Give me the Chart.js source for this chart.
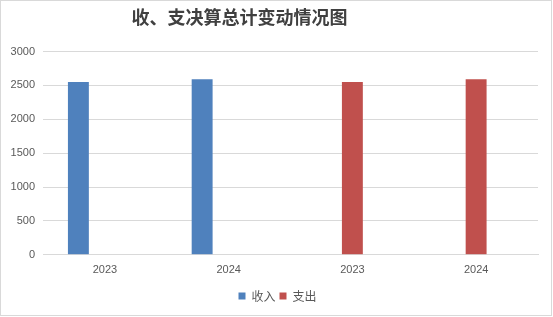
<!DOCTYPE html>
<html>
<head>
<meta charset="utf-8">
<script src="https://cdn.jsdelivr.net/npm/chart.js@4"></script>
<style>
  html, body { margin: 0; padding: 0; background: #ffffff; }
  #wrap { position: relative; width: 553px; height: 317px; }
  #frame { position: absolute; left: 0; top: 0; width: 552px; height: 316px; box-sizing: border-box; border: 1px solid #d9d9d9; pointer-events: none; }
  canvas { position: absolute; left: 0; top: 0; }
</style>
</head>
<body>
<div id="wrap">
  <canvas id="c" width="553" height="317"></canvas>
  <div id="frame"></div>
</div>
<script>
const titleText = '收、支决算总计变动情况图';
const categories = ['2023', '2024', '2023', '2024'];
const incomeLabel = '收入';
const expenseLabel = '支出';
const incomeValues = [2550, 2590, null, null];
const expenseValues = [null, null, 2550, 2590];
const placeholderValues = [null, null, null, null];
const yTicks = [0, 500, 1000, 1500, 2000, 2500, 3000];

const axisFont = { family: '"Liberation Sans", Arial, sans-serif', size: 11 };
const cjkFont = '"Noto Sans CJK SC", "Noto Sans", sans-serif';

new Chart(document.getElementById('c'), {
  type: 'bar',
  data: {
    labels: categories,
    datasets: [
      { label: incomeLabel, data: incomeValues, backgroundColor: '#4f81bd' },
      { label: expenseLabel, data: expenseValues, backgroundColor: '#c0504d' },
      { label: '', data: placeholderValues, backgroundColor: 'rgba(0,0,0,0)' }
    ]
  },
  options: {
    responsive: false,
    animation: false,
    devicePixelRatio: 1,
    categoryPercentage: 0.642,
    barPercentage: 0.79,
    layout: { padding: { left: 10, right: 8, top: 0, bottom: 5 } },
    plugins: {
      title: {
        display: true,
        text: titleText + '\u3000\u3000\u3000\u3000 ',
        color: '#404040',
        font: { family: cjkFont, size: 18, weight: 'bold' },
        padding: { top: 6, bottom: 24 }
      },
      legend: {
        position: 'bottom',
        labels: {
          boxWidth: 7,
          boxHeight: 7,
          color: '#595959',
          padding: 4,
          font: { family: cjkFont, size: 12 },
          filter: (item) => item.text !== ''
        }
      },
      tooltip: { enabled: false }
    },
    scales: {
      x: {
        grid: { display: false, drawTicks: false },
        border: { display: true, color: '#d9d9d9' },
        ticks: { color: '#595959', font: axisFont, padding: 9, maxRotation: 0 }
      },
      y: {
        min: 0,
        max: 3000,
        afterBuildTicks: (scale) => { scale.ticks = yTicks.map(v => ({ value: v })); },
        afterFit: (scale) => { scale.width = 33; },
        grid: { color: '#d9d9d9', drawTicks: false },
        border: { display: false },
        ticks: { color: '#595959', font: axisFont, padding: 8, callback: (v) => String(v) }
      },
      yRight: {
        position: 'right',
        display: true,
        grid: { display: false, drawTicks: false },
        border: { display: false },
        ticks: { display: false },
        afterFit: (scale) => { scale.width = 7; }
      }
    }
  }
});
</script>
</body>
</html>
